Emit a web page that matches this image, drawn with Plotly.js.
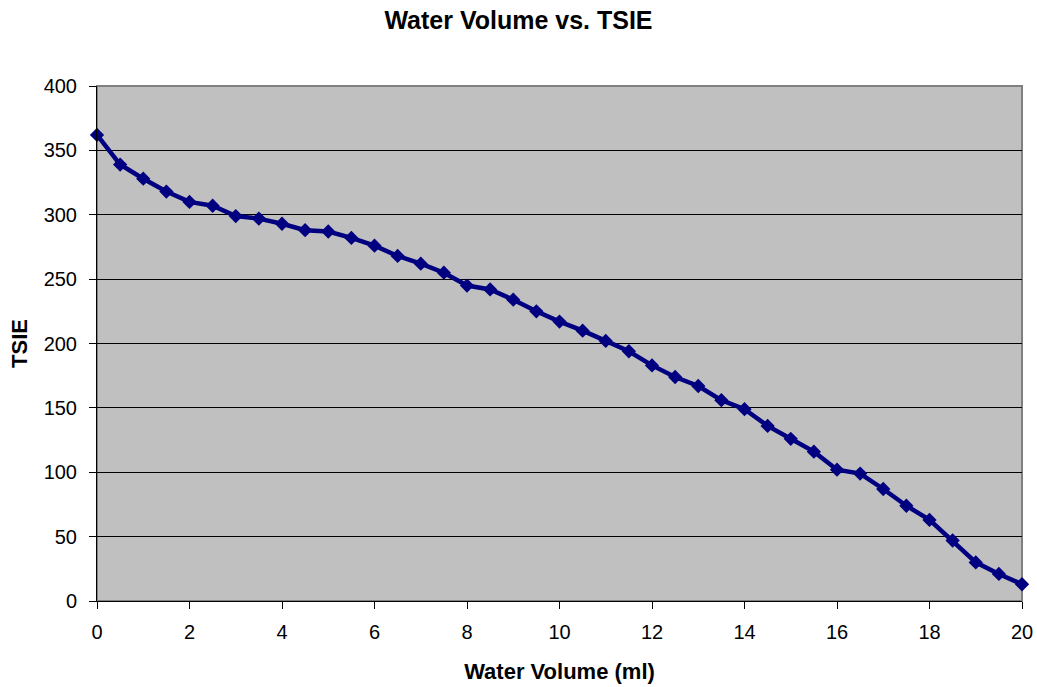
<!DOCTYPE html>
<html>
<head>
<meta charset="utf-8">
<script src="https://cdn.plot.ly/plotly-3.0.1.min.js"></script>
<style>html,body{margin:0;padding:0;background:#fff;}#chart{width:1037px;height:687px;}</style>
</head>
<body>
<div id="chart"></div>
<script>
const waterVolume = [0,0.5,1,1.5,2,2.5,3,3.5,4,4.5,5,5.5,6,6.5,7,7.5,8,8.5,9,9.5,10,10.5,11,11.5,12,12.5,13,13.5,14,14.5,15,15.5,16,16.5,17,17.5,18,18.5,19,19.5,20];
const tsie = [362,339,328,318,310,307,299,297,293,288,287,282,276,268,262,255,245,242,234,225,217,210,202,194,183,174,167,156,149,136,126,116,102,99,87,74,63,47,30,21,13];
const xTicks = [0,2,4,6,8,10,12,14,16,18,20];
const yTicks = [0,50,100,150,200,250,300,350,400];

const font = 'Liberation Sans, Arial, sans-serif';
Plotly.newPlot('chart', [{
  x: waterVolume, y: tsie, type: 'scatter', mode: 'lines+markers',
  line: {color: '#000080', width: 4.5},
  marker: {symbol: 'diamond', size: 11, color: '#000080'},
  cliponaxis: false
}], {
  width: 1037, height: 687,
  margin: {l: 97, r: 15, t: 86, b: 86},
  paper_bgcolor: '#ffffff', plot_bgcolor: '#c0c0c0',
  showlegend: false,
  title: {text: '<b>Water Volume vs. TSIE</b>', x: 0.5, xanchor: 'center', y: 1 - 20/687, yanchor: 'middle', font: {family: font, size: 25, color: '#000'}},
  xaxis: {
    range: [0, 20], tickvals: xTicks, ticktext: xTicks.map(String),
    showgrid: false, zeroline: false, showline: true, linecolor: '#000', linewidth: 1,
    ticks: 'outside', ticklen: 7, tickcolor: '#000', ticklabelstandoff: 6,
    tickfont: {family: font, size: 20, color: '#000'},
    title: {text: '<b>Water Volume (ml)</b>', font: {family: font, size: 22, color: '#000'}, standoff: 21}
  },
  yaxis: {
    range: [0, 400], tickvals: yTicks, ticktext: yTicks.map(String),
    showgrid: true, gridcolor: '#000', gridwidth: 1, zeroline: false,
    showline: true, linecolor: '#000', linewidth: 1,
    ticks: 'outside', ticklen: 7, tickcolor: '#000', ticklabelstandoff: 8,
    tickfont: {family: font, size: 20, color: '#000'},
    title: {text: '<b>TSIE</b>', font: {family: font, size: 22, color: '#000'}, standoff: 9}
  },
  shapes: [{type: 'rect', xref: 'paper', yref: 'paper', x0: 0, x1: 1, y0: 0, y1: 1, line: {color: '#808080', width: 2}, layer: 'below'}]
}, {displayModeBar: false, staticPlot: true});
</script>
</body>
</html>
